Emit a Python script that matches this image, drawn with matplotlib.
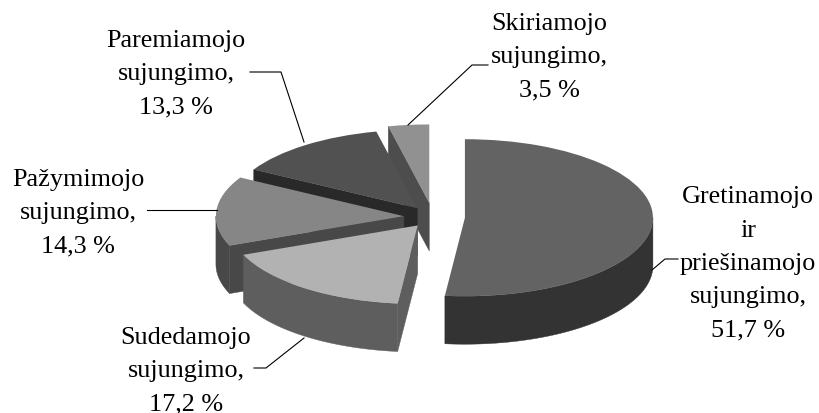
import numpy as np
import matplotlib
matplotlib.use("Agg")
import matplotlib.pyplot as plt
from matplotlib.patches import Polygon

plt.rcParams['font.family'] = ['Liberation Serif', 'DejaVu Serif']

# shares in %, clockwise from 12 o'clock
values = [51.7, 17.2, 14.3, 13.3, 3.5]
labels = ["Gretinamojo\nir\npriešinamojo\nsujungimo,\n51,7 %",
          "Sudedamojo\nsujungimo,\n17,2 %",
          "Pažymimojo\nsujungimo,\n14,3 %",
          "Paremiamojo\nsujungimo,\n13,3 %",
          "Skiriamojo\nsujungimo,\n3,5 %"]
explode = [0.17, 0.135, 0.155, 0.14, 0.18]
top_colors = ["#636363", "#b2b2b2", "#868686", "#515151", "#919191"]
side_colors = ["#333333", "#5e5e5e", "#484848", "#292929", "#4d4d4d"]
layer = [5, 4, 3, 2, 1]

W, H = 819, 414
cx, cy, rx, ry = 433, 218, 188, 78.5   # pie centre and radii in pixels
depth = 48 / ry

fig = plt.figure(figsize=(W / 100, H / 100), dpi=100)
ax = fig.add_axes([0, 0, 1, 1])
wedges, _ = ax.pie(values, explode=explode, startangle=90, counterclock=False,
                   colors=top_colors, wedgeprops=dict(linewidth=0))
ax.set_aspect("auto")
ax.set_xlim(-cx / rx, (W - cx) / rx)
ax.set_ylim(-(H - cy) / ry, cy / ry)


def add_wall(pts, color, z):
    ax.add_patch(Polygon(pts, closed=True, facecolor=color, edgecolor=color,
                         linewidth=0.3, zorder=z))


for w, side, z in zip(wedges, side_colors, layer):
    w.set_zorder(z + 0.5)
    x0, y0 = w.center
    # cut faces, only those turned to the viewer
    for t, sign in ((w.theta1, 1), (w.theta2, -1)):
        a = np.radians(t)
        if sign * np.cos(a) > 1e-6:
            ex, ey = x0 + w.r * np.cos(a), y0 + w.r * np.sin(a)
            add_wall([(x0, y0), (ex, ey), (ex, ey - depth), (x0, y0 - depth)], side, z)
    # outer rim, front half of the ellipse
    for shift in (-360, 0):
        t1, t2 = max(w.theta1, 180 + shift), min(w.theta2, 360 + shift)
        if t2 > t1:
            a = np.radians(np.linspace(t1, t2, 80))
            xs, ys = x0 + w.r * np.cos(a), y0 + w.r * np.sin(a)
            rim = np.r_[np.c_[xs, ys], np.c_[xs[::-1], ys[::-1] - depth]]
            add_wall(rim, side, z)

# label centres and leader lines, in pixels from top-left
label_pos = [(748, 264), (186, 371), (78, 213), (176, 74), (549, 57)]
leaders = [[(678, 260), (665, 260), (652, 271)],
           [(254, 369), (266, 369), (304, 339)],
           [(147, 211), (217, 211)],
           [(250, 73), (281, 73), (304, 143)],
           [(488, 66), (472, 66), (408, 126)]]

for txt, (px, py) in zip(labels, label_pos):
    fig.text(px / W, 1 - py / H, txt, ha="center", va="center", fontsize=18.8,
             linespacing=1.67, color="black")
for pts in leaders:
    xs = [p[0] / W for p in pts]
    ys = [1 - p[1] / H for p in pts]
    ax.plot(xs, ys, color="black", lw=0.8, transform=fig.transFigure, zorder=10)

fig.savefig("out.png", dpi=100)
